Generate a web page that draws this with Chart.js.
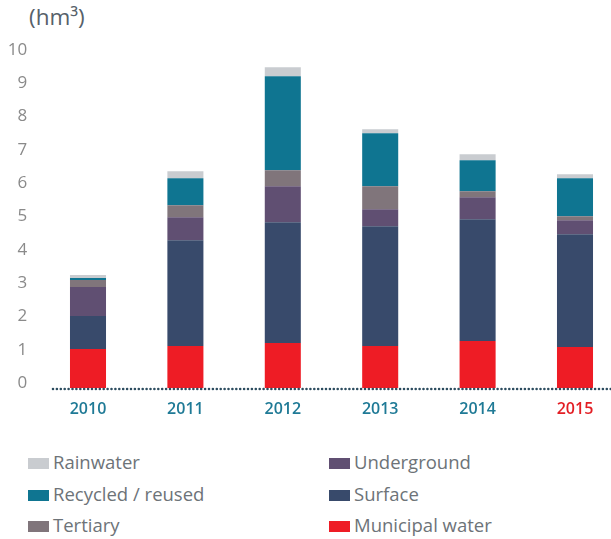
<!DOCTYPE html>
<html>
<head>
<meta charset="utf-8">
<script src="https://cdn.jsdelivr.net/npm/chart.js@4.4.1/dist/chart.umd.min.js"></script>
<style>
    html, body { margin: 0; padding: 0; background: #fff; overflow: hidden; width: 611px; height: 539px; }
    #wrap { position: absolute; left: 0; top: 0; width: 625px; height: 430px; }
    #unit { position: absolute; left: 29px; top: 1px; font: 22.5px "Open Sans", sans-serif; color: #56616a; }
    #legend { position: absolute; left: 28px; top: 450px; width: 580px; }
    .item { position: absolute; font: 18.5px "Open Sans", sans-serif; color: #6d7378; white-space: nowrap; line-height: 24px; }
    .item i { display: inline-block; width: 21px; height: 11px; margin-right: 4px; vertical-align: 0px; }
</style>
</head>
<body>
<div id="unit">(hm³)</div>
<div id="wrap"><canvas id="chart" width="625" height="430"></canvas></div>
<div id="legend"></div>
<script>
const YEARS = ['2010', '2011', '2012', '2013', '2014', '2015'];
const Y_TICKS = [0, 1, 2, 3, 4, 5, 6, 7, 8, 9, 10];

// stacked from bottom to top
const MUNICIPAL = [1.17, 1.26, 1.35, 1.26, 1.41, 1.23];
const SURFACE = [0.99, 3.18, 3.63, 3.60, 3.66, 3.39];
const UNDERGROUND = [0.87, 0.69, 1.08, 0.51, 0.66, 0.42];
const TERTIARY = [0.21, 0.36, 0.48, 0.69, 0.18, 0.12];
const RECYCLED = [0.06, 0.81, 2.82, 1.59, 0.93, 1.14];
const RAINWATER = [0.09, 0.21, 0.27, 0.12, 0.18, 0.12];

const SERIES = [
    { label: 'Municipal water', data: MUNICIPAL, color: '#ee1c25' },
    { label: 'Surface', data: SURFACE, color: '#384a6b' },
    { label: 'Underground', data: UNDERGROUND, color: '#604f72' },
    { label: 'Tertiary', data: TERTIARY, color: '#80757b' },
    { label: 'Recycled / reused', data: RECYCLED, color: '#0f7591' },
    { label: 'Rainwater', data: RAINWATER, color: '#c9ccd0' }
];

// legend order: two columns, read row by row
const LEGEND_ORDER = ['Rainwater', 'Underground', 'Recycled / reused', 'Surface', 'Tertiary', 'Municipal water'];

// dotted baseline under the bars
const dottedBase = {
    id: 'dottedBase',
    afterDatasetsDraw(chart) {
        const ctx = chart.ctx;
        const y = chart.scales.y.getPixelForValue(0) + 1;
        ctx.save();
        ctx.strokeStyle = '#2c4c5f';
        ctx.lineWidth = 2.6;
        ctx.lineCap = 'round';
        ctx.setLineDash([0, 3.9]);
        ctx.beginPath();
        ctx.moveTo(53, y);
        ctx.lineTo(chart.width, y);
        ctx.stroke();
        ctx.restore();
    }
};

new Chart(document.getElementById('chart'), {
    type: 'bar',
    data: {
        labels: YEARS,
        datasets: SERIES.map(s => ({
            label: s.label,
            data: s.data,
            backgroundColor: s.color,
            borderWidth: 0,
            barPercentage: 0.37,
            categoryPercentage: 1
        }))
    },
    options: {
        responsive: false,
        animation: false,
        devicePixelRatio: 1,
        layout: { padding: { top: 55, right: 1.3, left: 0, bottom: 0 } },
        plugins: { legend: { display: false }, tooltip: { enabled: false } },
        scales: {
            x: {
                stacked: true,
                grid: { display: false, drawTicks: false },
                border: { display: false },
                afterFit: s => { s.height = 42; },
                ticks: {
                    padding: 12,
                    font: { family: 'Open Sans', size: 16, weight: '600' },
                    color: ctx => ctx.index === YEARS.length - 1 ? '#e31e24' : '#1f7a96'
                }
            },
            y: {
                stacked: true,
                min: 0,
                max: 10,
                afterBuildTicks: s => { s.ticks = Y_TICKS.map(v => ({ value: v })); },
                afterFit: s => { s.width = 39.3; },
                grid: { display: false, drawTicks: false },
                border: { display: false },
                ticks: {
                    padding: 12,
                    labelOffset: -5,
                    font: { family: 'Open Sans', size: 17 },
                    color: '#8a8a8a'
                }
            }
        }
    },
    plugins: [dottedBase]
});

// html legend built from the series list
const legend = document.getElementById('legend');
LEGEND_ORDER.forEach((name, i) => {
    const s = SERIES.find(x => x.label === name);
    const el = document.createElement('div');
    el.className = 'item';
    el.style.left = (i % 2 ? 301 : 0) + 'px';
    el.style.top = (Math.floor(i / 2) * 31.5) + 'px';
    el.innerHTML = `<i style="background:${s.color}"></i>${s.label}`;
    legend.appendChild(el);
});
</script>
</body>
</html>
